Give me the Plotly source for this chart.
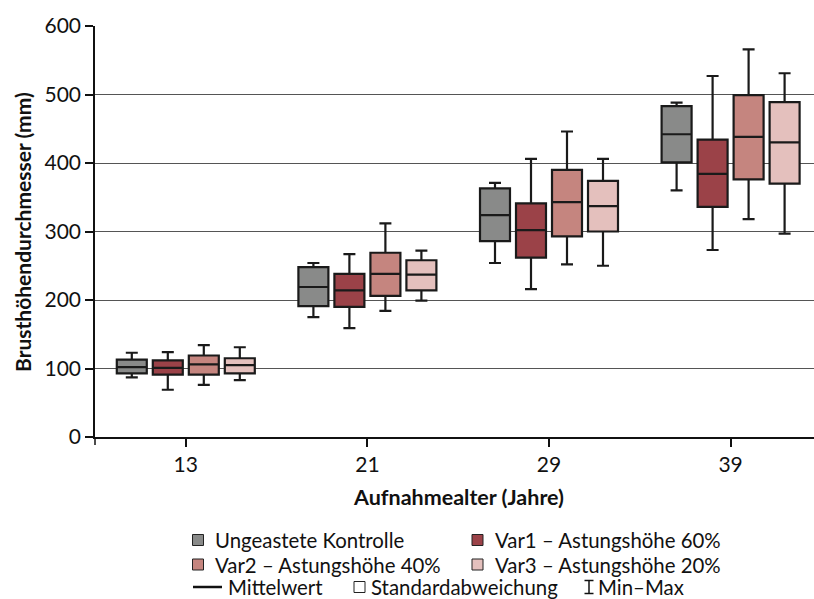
import plotly.graph_objects as go

categories = ["13", "21", "29", "39"]

series_names = [
    "Ungeastete Kontrolle",
    "Var1 – Astungshöhe 60%",
    "Var2 – Astungshöhe 40%",
    "Var3 – Astungshöhe 20%",
]
series_colors = ["#898a89", "#9b4248", "#c5857f", "#e4c0bd"]

# Mittelwert, Standardabweichung (unten/oben), Min, Max
kontrolle_mean = [102, 219, 324, 442]
kontrolle_sd_low = [93, 191, 286, 401]
kontrolle_sd_high = [113, 248, 363, 483]
kontrolle_min = [87, 175, 254, 360]
kontrolle_max = [123, 254, 371, 488]

var1_mean = [101, 214, 302, 384]
var1_sd_low = [91, 190, 262, 336]
var1_sd_high = [112, 238, 341, 434]
var1_min = [69, 159, 216, 273]
var1_max = [124, 267, 406, 527]

var2_mean = [106, 238, 343, 438]
var2_sd_low = [91, 206, 293, 376]
var2_sd_high = [119, 269, 390, 499]
var2_min = [76, 184, 252, 318]
var2_max = [134, 312, 446, 566]

var3_mean = [105, 237, 337, 430]
var3_sd_low = [93, 214, 300, 370]
var3_sd_high = [115, 258, 374, 489]
var3_min = [83, 199, 250, 297]
var3_max = [131, 272, 406, 531]

y_ticks = [0, 100, 200, 300, 400, 500, 600]

x_title = "Aufnahmealter (Jahre)"
y_title = "Brusthöhendurchmesser (mm)"
legend_extra = ["Mittelwert", "Standardabweichung", "Min–Max"]

stats = [
    (kontrolle_mean, kontrolle_sd_low, kontrolle_sd_high, kontrolle_min, kontrolle_max),
    (var1_mean, var1_sd_low, var1_sd_high, var1_min, var1_max),
    (var2_mean, var2_sd_low, var2_sd_high, var2_min, var2_max),
    (var3_mean, var3_sd_low, var3_sd_high, var3_min, var3_max),
]

FONT = "Lato"
W, H = 814, 599
L, T, B = 95, 26, 437  # plot area pixel bounds
R = 814


def px(x):
    return (x - L) / (R - L)


def py(y):
    return (B - y) / (B - T)


fig = go.Figure()
for name, color, (mean, lo, hi, mn, mx) in zip(series_names, series_colors, stats):
    fig.add_trace(go.Box(
        name=name,
        x=categories,
        q1=lo,
        median=mean,
        q3=hi,
        lowerfence=mn,
        upperfence=mx,
        fillcolor=color,
        line=dict(color="#1a1a1a", width=2.2),
        whiskerwidth=0.4,
        boxpoints=False,
        showlegend=False,
    ))

shapes = []
annotations = []

# x-axis title and y-axis title
annotations.append(dict(text="<b>" + x_title + "</b>", x=px(458), y=py(497), xref="paper", yref="paper",
                        xanchor="center", yanchor="middle", showarrow=False,
                        font=dict(family=FONT, size=21.5, color="#111")))
annotations.append(dict(text="<b>" + y_title + "</b>", x=px(22), y=py(232), xref="paper", yref="paper",
                        xanchor="center", yanchor="middle", showarrow=False, textangle=-90,
                        font=dict(family=FONT, size=21, color="#111")))

# extra tick at left end of x axis
shapes.append(dict(type="line", xref="paper", yref="paper", x0=0, x1=0, y0=py(437), y1=py(445),
                   line=dict(color="#111", width=1.5)))

# legend (manual)
leg_font = dict(family=FONT, size=20.4, color="#111")
rows = [(540, 0), (564.5, 2)]
cols = [192.5, 472]
for ry, start in rows:
    for ci, cx in enumerate(cols):
        idx = start + ci
        shapes.append(dict(type="rect", xref="paper", yref="paper",
                           x0=px(cx), x1=px(cx + 11), y0=py(ry + 5.5), y1=py(ry - 5.5),
                           fillcolor=series_colors[idx], line=dict(color="#222", width=1)))
        annotations.append(dict(text=series_names[idx], x=px(cx + 21.5), y=py(ry), xref="paper", yref="paper",
                                xanchor="left", yanchor="middle", showarrow=False, font=leg_font,
                                borderpad=0))

ry = 587
shapes.append(dict(type="line", xref="paper", yref="paper", x0=px(193), x1=px(222), y0=py(ry), y1=py(ry),
                   line=dict(color="#111", width=2.5)))
annotations.append(dict(text=legend_extra[0], x=px(227), y=py(ry), xref="paper", yref="paper",
                        xanchor="left", yanchor="middle", showarrow=False, font=leg_font, borderpad=0))
shapes.append(dict(type="rect", xref="paper", yref="paper", x0=px(354), x1=px(365),
                   y0=py(ry + 5.5), y1=py(ry - 5.5), fillcolor="white", line=dict(color="#222", width=1)))
annotations.append(dict(text=legend_extra[1], x=px(370), y=py(ry), xref="paper", yref="paper",
                        xanchor="left", yanchor="middle", showarrow=False, font=leg_font, borderpad=0))
for seg in [((589, ry - 6.5), (589, ry + 6.5)), ((584.5, ry - 6.5), (593.5, ry - 6.5)),
            ((584.5, ry + 6.5), (593.5, ry + 6.5))]:
    (x0, y0), (x1, y1) = seg
    shapes.append(dict(type="line", xref="paper", yref="paper", x0=px(x0), x1=px(x1), y0=py(y0), y1=py(y1),
                       line=dict(color="#111", width=1.5)))
annotations.append(dict(text=legend_extra[2], x=px(597), y=py(ry), xref="paper", yref="paper",
                        xanchor="left", yanchor="middle", showarrow=False, font=leg_font, borderpad=0))

span = (R - L) / 181.6
fig.update_layout(
    width=W, height=H,
    margin=dict(l=L, r=W - R, t=T, b=H - B, pad=0),
    paper_bgcolor="white", plot_bgcolor="white",
    boxmode="group", boxgap=0.207, boxgroupgap=0.167,
    shapes=shapes, annotations=annotations,
    font=dict(family=FONT, color="#111"),
    xaxis=dict(
        type="category", range=[-0.5, -0.5 + span],
        showline=True, linecolor="#111", linewidth=1.5,
        ticks="outside", ticklen=8, tickcolor="#111", tickwidth=1.5,
        tickfont=dict(family=FONT, size=21, color="#111"),
        showgrid=False, zeroline=False,
    ),
    yaxis=dict(
        range=[0, 600], tickvals=y_ticks,
        showline=True, linecolor="#111", linewidth=1.5,
        ticks="outside", ticklen=8, tickcolor="#111", tickwidth=1.5,
        tickfont=dict(family=FONT, size=21, color="#111"),
        showgrid=True, gridcolor="#555", gridwidth=1,
        zeroline=False,
    ),
)

fig.write_html("out.html")
